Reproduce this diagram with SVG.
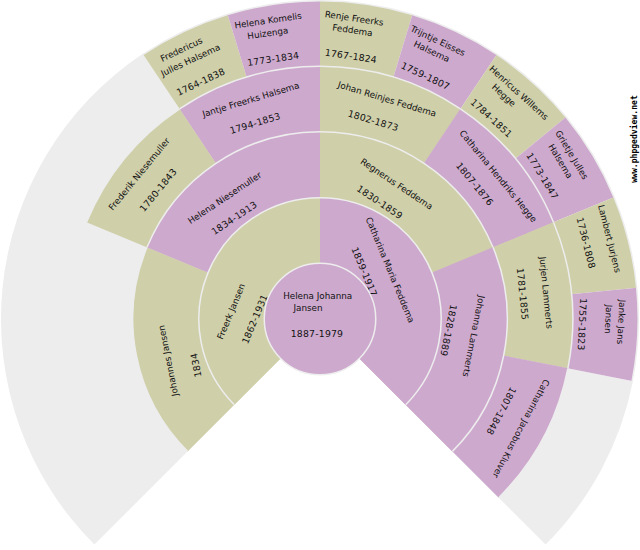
<svg xmlns="http://www.w3.org/2000/svg" width="640" height="550" viewBox="0 0 640 550">
<style>
text{font-family:"DejaVu Sans",sans-serif;font-size:8.8px;fill:#111;text-anchor:middle}
text.d{font-size:9.3px;letter-spacing:.2px}
.w{fill:#ededed}
.k{fill:#cfcfaa}
.p{fill:#cea9ce}
.e{fill:none;stroke:#ededed;stroke-width:1.5}
text.m{font-family:"DejaVu Sans Mono",monospace;font-size:8.1px;font-weight:bold;fill:#000}
</style>
<rect width="640" height="550" fill="#fff"/>
<g id="connectors"/>
<g id="missing">
<path class="w" d="M320 319L94.4 544.6A319 319 0 0 1 142.8 53.8Z"/>
<path class="w" d="M320 319L632.9 381.2A319 319 0 0 1 545.6 544.6Z"/>
</g>
<g id="n-fredericus"><path class="k" d="M320 319L143.2 54.4A318.25 318.25 0 0 1 227.6 14.5Z"/><path class="e" d="M143.2 54.4A318.25 318.25 0 0 1 227.6 14.5"/>
<g transform="rotate(-25.3125 320 319)"><text x="310" y="19.2">Fredericus</text><text x="313.6" y="32.7">Julles Halsema</text><text class="d" x="313.6" y="57">1764-1838</text></g></g>
<g id="n-helena-komelis"><path class="p" d="M320 319L227.6 14.5A318.25 318.25 0 0 1 320 .75Z"/><path class="e" d="M227.6 14.5A318.25 318.25 0 0 1 320 .75"/>
<g transform="rotate(-8.4375 320 319)"><text x="312.4" y="19.2">Helena Komelis</text><text x="310.3" y="31.7">Huizenga</text><text class="d" x="311.9" y="58.2">1773-1834</text></g></g>
<g id="n-renje"><path class="k" d="M320 319L320 .75A318.25 318.25 0 0 1 412.4 14.5Z"/><path class="e" d="M320 .75A318.25 318.25 0 0 1 412.4 14.5"/>
<g transform="rotate(8.4375 320 319)"><text x="309.7" y="19.6">Renje Freerks</text><text x="309.8" y="31.7">Feddema</text><text class="d" x="312" y="57.7">1767-1824</text></g></g>
<g id="n-trijntje"><path class="p" d="M320 319L412.4 14.5A318.25 318.25 0 0 1 496.8 54.4Z"/><path class="e" d="M412.4 14.5A318.25 318.25 0 0 1 496.8 54.4"/>
<g transform="rotate(25.3125 320 319)"><text x="307.6" y="20.1">Trijntje Eisses</text><text x="306.6" y="32.4">Halsema</text><text class="d" x="311.4" y="57.5">1759-1807</text></g></g>
<g id="n-henricus"><path class="k" d="M320 319L496.8 54.4A318.25 318.25 0 0 1 566 117.1Z"/><path class="e" d="M496.8 54.4A318.25 318.25 0 0 1 566 117.1"/>
<g transform="rotate(42.1875 320 319)"><text x="315.4" y="20.9">Henricus Willems</text><text x="305.9" y="32.8">Hegge</text><text class="d" x="312.1" y="58.3">1784-1851</text></g></g>
<g id="n-grietje"><path class="p" d="M320 319L566 117.1A318.25 318.25 0 0 1 614 197.2Z"/><path class="e" d="M566 117.1A318.25 318.25 0 0 1 614 197.2"/>
<g transform="rotate(59.0625 320 319)"><text x="308.7" y="21.7">Grietje Julles</text><text x="308.2" y="34.6">Halsema</text><text class="d" x="311.7" y="58">1773-1847</text></g></g>
<g id="n-lambert"><path class="k" d="M320 319L614 197.2A318.25 318.25 0 0 1 636.7 287.8Z"/><path class="e" d="M614 197.2A318.25 318.25 0 0 1 636.7 287.8"/>
<g transform="rotate(75.9375 320 319)"><text x="312.4" y="21.7">Lambert Jurjens</text><text class="d" x="310.9" y="45.7">1736-1808</text></g></g>
<g id="n-janke"><path class="p" d="M320 319L636.7 287.8A318.25 318.25 0 0 1 632.1 381.1Z"/><path class="e" d="M636.7 287.8A318.25 318.25 0 0 1 632.1 381.1"/>
<g transform="rotate(92.8125 320 319)"><text x="308.2" y="21">Janke Jans</text><text x="306" y="34">Jansen</text><text class="d" x="312.4" y="60.2">1755-1823</text></g></g>
<g id="n-frederik"><path class="k" d="M320 319L86.5 222.3A252.75 252.75 0 0 1 179.6 108.8Z"/><path class="e" d="M86.5 222.3A252.75 252.75 0 0 1 179.6 108.8"/>
<g transform="rotate(-50.625 320 319)"><text x="317.4" y="90.3">Frederik Niesemuller</text><text class="d" x="317" y="115.4">1780-1843</text></g></g>
<g id="n-jantje"><path class="p" d="M320 319L179.6 108.8A252.75 252.75 0 0 1 320 66.25Z"/><path class="e" d="M179.6 108.8A252.75 252.75 0 0 1 320 66.25"/>
<g transform="rotate(-16.875 320 319)"><text x="317.5" y="92">Jantje Freerks Halsema</text><text class="d" x="314.7" y="116.1">1794-1853</text></g></g>
<g id="n-johan"><path class="k" d="M320 319L320 66.25A252.75 252.75 0 0 1 460.4 108.8Z"/><path class="e" d="M320 66.25A252.75 252.75 0 0 1 460.4 108.8"/>
<g transform="rotate(16.875 320 319)"><text x="320.4" y="92.2">Johan Reinjes Feddema</text><text class="d" x="313.4" y="117">1802-1873</text></g></g>
<g id="n-catharina-h"><path class="p" d="M320 319L460.4 108.8A252.75 252.75 0 0 1 553.5 222.3Z"/><path class="e" d="M460.4 108.8A252.75 252.75 0 0 1 553.5 222.3"/>
<g transform="rotate(50.625 320 319)"><text x="322.7" y="93.7">Catharina Hendriks Hegge</text><text class="d" x="313.8" y="117.1">1807-1876</text></g></g>
<g id="n-jurjen"><path class="k" d="M320 319L553.5 222.3A252.75 252.75 0 0 1 567.9 368.3Z"/><path class="e" d="M553.5 222.3A252.75 252.75 0 0 1 567.9 368.3"/>
<g transform="rotate(84.375 320 319)"><text x="316" y="94.5">Jurjen Lammerts</text><text class="d" x="315" y="118.2">1781-1855</text></g></g>
<g id="n-catharina-j"><path class="p" d="M320 319L567.9 368.3A252.75 252.75 0 0 1 498.7 497.7Z"/><path class="e" d="M567.9 368.3A252.75 252.75 0 0 1 498.7 497.7"/>
<g transform="rotate(118.125 320 319)"><text x="322" y="93">Catharina Jacobus Kluver</text><text class="d" x="315.6" y="119">1807-1848</text></g></g>
<g id="n-johannes"><path class="k" d="M320 319L187.6 451.4A187.25 187.25 0 0 1 147 247.3Z"/><path class="e" d="M187.6 451.4A187.25 187.25 0 0 1 147 247.3"/>
<g transform="rotate(-101.25 320 319)"><text x="308.7" y="165">Johannes Jansen</text><text class="d" x="299" y="191.7">1834</text></g></g>
<g id="n-helena-n"><path class="p" d="M320 319L147 247.3A187.25 187.25 0 0 1 320 131.75Z"/><path class="e" d="M147 247.3A187.25 187.25 0 0 1 320 131.75"/>
<g transform="rotate(-33.75 320 319)"><text x="308" y="168.4">Helena Niesemuller</text><text class="d" x="304.8" y="190.7">1834-1913</text></g></g>
<g id="n-regnerus"><path class="k" d="M320 319L320 131.75A187.25 187.25 0 0 1 493 247.3Z"/><path class="e" d="M320 131.75A187.25 187.25 0 0 1 493 247.3"/>
<g transform="rotate(33.75 320 319)"><text x="308.7" y="167.2">Regnerus Feddema</text><text class="d" x="304.8" y="192">1830-1859</text></g></g>
<g id="n-johanna"><path class="p" d="M320 319L493 247.3A187.25 187.25 0 0 1 452.4 451.4Z"/><path class="e" d="M493 247.3A187.25 187.25 0 0 1 452.4 451.4"/>
<g transform="rotate(101.25 320 319)"><text x="307" y="168">Johanna Lammerts</text><text class="d" x="306" y="194">1828-1889</text></g></g>
<g id="n-freerk"><path class="k" d="M320 319L234.3 404.7A121.25 121.25 0 0 1 320 197.75Z"/><path class="e" d="M234.3 404.7A121.25 121.25 0 0 1 320 197.75"/>
<g transform="rotate(-67.5 320 319)"><text x="293" y="237">Freerk Jansen</text><text class="d" x="295" y="262">1862-1931</text></g></g>
<g id="n-catharina-m"><path class="p" d="M320 319L320 197.75A121.25 121.25 0 0 1 405.7 404.7Z"/><path class="e" d="M320 197.75A121.25 121.25 0 0 1 405.7 404.7"/>
<g transform="rotate(67.5 320 319)"><text x="301.5" y="238.5">Catharina Maria Feddema</text><text class="d" x="293.2" y="263.2">1859-1917</text></g></g>
<g id="n-root"><circle class="p" cx="320" cy="319" r="55.75"/><circle class="e" cx="320" cy="319" r="55.75"/>
<text x="317.7" y="299">Helena Johanna</text><text x="308" y="311">Jansen</text><text class="d" x="317" y="336.7">1887-1979</text></g>
<text class="m" transform="translate(637 139) rotate(-90)">www.phpgedview.net</text>
</svg>
